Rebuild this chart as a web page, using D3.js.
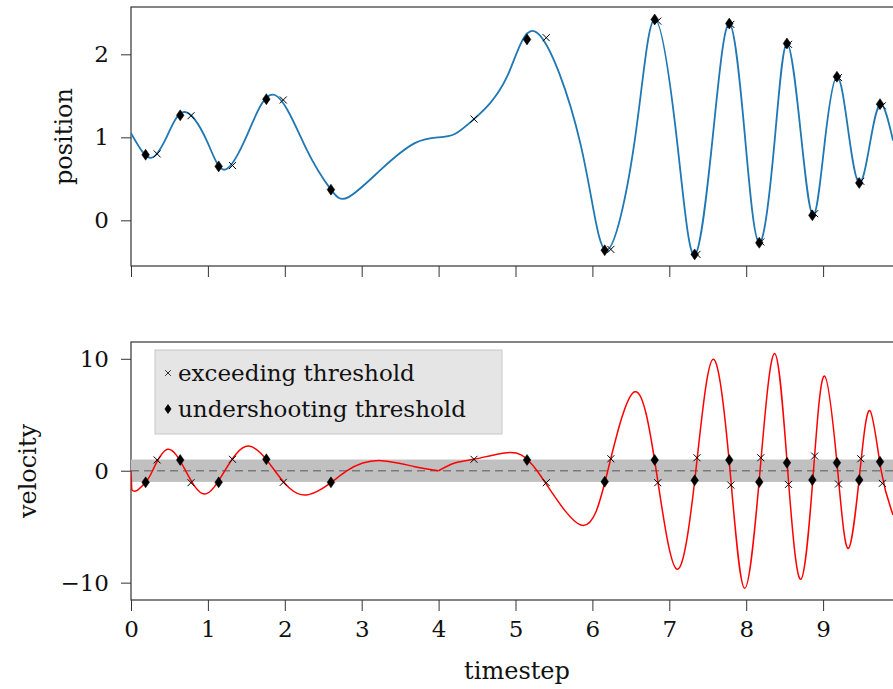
<!DOCTYPE html>
<html>
<head>
<meta charset="utf-8">
<script src="https://cdn.jsdelivr.net/npm/d3@7"></script>
<style>
  body { margin: 0; background: #fff; }
  text { font-family: "DejaVu Serif", serif; fill: #111; }
</style>
</head>
<body>
<svg width="893" height="689"></svg>
<script>
// key points (timestep, value)
const posT = [0.00, 0.095, 0.27, 0.477, 0.70, 0.985, 1.22, 1.525, 1.87, 2.28, 2.60, 2.83, 3.26, 3.69, 4.00, 4.21, 4.46, 4.89, 5.28, 5.85, 6.18, 6.55, 6.81, 7.10, 7.33, 7.57, 7.78, 7.98, 8.17, 8.37, 8.53, 8.71, 8.87, 9.02, 9.18, 9.33, 9.47, 9.61, 9.75, 9.91]
const posV = [1.05, 0.90, 0.755, 1.03, 1.305, 0.96, 0.61, 1.06, 1.51, 0.86, 0.37, 0.28, 0.62, 0.93, 1.00, 1.04, 1.22, 1.73, 2.26, 0.90, -0.36, 0.96, 2.42, 0.96, -0.42, 1.05, 2.37, 1.05, -0.27, 0.96, 2.13, 1.05, 0.06, 0.93, 1.73, 1.06, 0.45, 0.93, 1.40, 0.96]

const velT = [0.00, 0.01, 0.075, 0.19, 0.28, 0.477, 0.71, 0.955, 1.22, 1.525, 1.87, 2.28, 2.81, 3.26, 3.69, 4.00, 4.21, 4.46, 4.89, 5.28, 5.85, 6.20, 6.55, 6.83, 7.10, 7.345, 7.57, 7.79, 7.98, 8.18, 8.37, 8.54, 8.71, 8.875, 9.02, 9.19, 9.33, 9.48, 9.61, 9.755, 9.91]
const velV = [0.00, -1.72, -1.78, -1.04, 0.00, 1.91, 0.00, -2.08, 0.00, 2.20, 0.00, -2.17, 0.00, 0.90, 0.36, 0.00, 0.69, 1.02, 1.61, 0.00, -4.85, 0.00, 7.05, 0.00, -8.8, 0.00, 9.95, 0.00, -10.5, 0.00, 10.48, 0.00, -9.7, 0.00, 8.45, 0.00, -6.93, 0.00, 5.36, 0.00, -3.95]
// kinks in the velocity curve (indices where the spline restarts)
const velBreaks = [1, 15]

// markers
const exceedT = [0.34, 0.78, 1.32, 1.98, 4.46, 5.40, 6.24, 6.85, 7.36, 7.80, 8.19, 8.55, 8.89, 9.20, 9.49, 9.77]
const exceedPos = [0.80, 1.26, 0.66, 1.45, 1.22, 2.20, -0.35, 2.40, -0.41, 2.36, -0.26, 2.12, 0.08, 1.72, 0.47, 1.38]
const exceedVel = [0.96, -1.07, 1.02, -1.04, 1.02, -1.07, 1.07, -1.07, 1.16, -1.28, 1.16, -1.22, 1.31, -1.19, 1.07, -1.13]

const underT = [0.19, 0.64, 1.14, 1.76, 2.60, 5.15, 6.16, 6.81, 7.33, 7.78, 8.17, 8.53, 8.86, 9.18, 9.47, 9.74]
const underPos = [0.79, 1.265, 0.65, 1.46, 0.37, 2.18, -0.36, 2.42, -0.41, 2.37, -0.27, 2.13, 0.06, 1.73, 0.45, 1.40]
const underVel = [-1.04, 0.96, -1.04, 1.02, -1.04, 0.96, -0.98, 0.96, -0.86, 0.96, -1.01, 0.71, -0.83, 0.71, -0.83, 0.80]

const threshold = 1
const xTicks = [0, 1, 2, 3, 4, 5, 6, 7, 8, 9]
const posTicks = [0, 1, 2]
const velTicks = [-10, 0, 10]
const legendLabels = ['exceeding threshold', 'undershooting threshold']

const svg = d3.select('svg')

const x = d3.scaleLinear().domain([0, 10]).range([131, 900])
const yPos = d3.scaleLinear().domain([-0.55, 2.57]).range([266, 7])
const yVel = d3.scaleLinear().domain([-11.55, 11.5]).range([600, 342])

const diamond = 'M0,-5.5L3.8,0L0,5.5L-3.8,0Z'
const cross = 'M-3.5,-3.5L3.5,3.5M-3.5,3.5L3.5,-3.5'

function panel(y, ticks, label, labelX, showXLabels) {
  const top = y.range()[1], bottom = y.range()[0]
  const g = svg.append('g')

  const clipId = 'clip' + Math.round(top)
  g.append('clipPath').attr('id', clipId)
    .append('rect').attr('x', x(0)).attr('y', top).attr('width', x(10) - x(0)).attr('height', bottom - top)

  g.append('g')
    .attr('transform', `translate(${x(0)},0)`)
    .call(d3.axisLeft(y).tickValues(ticks).tickFormat(d3.format('d')).tickSize(10).tickPadding(12).tickSizeOuter(0))
  const xAxis = g.append('g')
    .attr('transform', `translate(0,${bottom})`)
    .call(d3.axisBottom(x).tickValues(xTicks).tickFormat(d3.format('d')).tickSize(11).tickPadding(10).tickSizeOuter(0))
  if (!showXLabels) xAxis.selectAll('text').remove()
  g.selectAll('.domain').remove()
  g.selectAll('.tick line').attr('stroke', '#333').attr('stroke-width', 1)
  g.selectAll('.tick text').style('font-family', '"DejaVu Serif", serif').style('font-size', '23px').attr('fill', '#111')

  // frame
  g.append('rect')
    .attr('x', x(0)).attr('y', top).attr('width', x(10) - x(0)).attr('height', bottom - top)
    .attr('fill', 'none').attr('stroke', '#333').attr('stroke-width', 1.2)

  g.append('text')
    .attr('transform', `translate(${labelX},${(top + bottom) / 2}) rotate(-90)`)
    .attr('text-anchor', 'middle').attr('dy', '0.35em')
    .style('font-size', '24px')
    .text(label)

  return g.append('g').attr('clip-path', `url(#${clipId})`)
}

// ---- position panel
const gTop = panel(yPos, posTicks, 'position', 64, false)

const posLine = d3.line().x((d) => x(d[0])).y((d) => yPos(d[1])).curve(d3.curveNatural)
gTop.append('path')
  .datum(d3.zip(posT, posV))
  .attr('d', posLine)
  .attr('fill', 'none').attr('stroke', '#1f77b4').attr('stroke-width', 1.8)

function drawMarkers(g, y, tArr, vArr, shape) {
  g.selectAll(null)
    .data(d3.zip(tArr, vArr))
    .enter()
    .append('path')
    .attr('transform', (d) => `translate(${x(d[0])},${y(d[1])})`)
    .attr('d', shape)
    .attr('fill', shape === diamond ? '#000' : 'none')
    .attr('stroke', '#000')
    .attr('stroke-width', shape === diamond ? 0.5 : 1)
}
drawMarkers(gTop, yPos, exceedT, exceedPos, cross)
drawMarkers(gTop, yPos, underT, underPos, diamond)

// ---- velocity panel
const gBot = panel(yVel, velTicks, 'velocity', 28, true)

gBot.append('rect')
  .attr('x', x(0)).attr('width', x(10) - x(0))
  .attr('y', yVel(threshold)).attr('height', yVel(-threshold) - yVel(threshold))
  .attr('fill', '#c0c0c0')
gBot.append('line')
  .attr('x1', x(0)).attr('x2', x(10)).attr('y1', yVel(0)).attr('y2', yVel(0))
  .attr('stroke', '#7a7a7a').attr('stroke-width', 1.4).attr('stroke-dasharray', '8,5')

const velPts = d3.zip(velT, velV)
const cuts = [0, ...velBreaks, velPts.length - 1]
const velLine = d3.line().x((d) => x(d[0])).y((d) => yVel(d[1])).curve(d3.curveNatural)
for (let i = 0; i < cuts.length - 1; i++) {
  gBot.append('path')
    .datum(velPts.slice(cuts[i], cuts[i + 1] + 1))
    .attr('d', velLine)
    .attr('fill', 'none').attr('stroke', '#ff0000').attr('stroke-width', 1.5)
}
drawMarkers(gBot, yVel, exceedT, exceedVel, cross)
drawMarkers(gBot, yVel, underT, underVel, diamond)

// x label
svg.append('text')
  .attr('x', 517).attr('y', 679)
  .attr('text-anchor', 'middle')
  .style('font-size', '24px')
  .text('timestep')

// legend
const legend = svg.append('g').attr('transform', 'translate(155,350)')
legend.append('rect')
  .attr('width', 347).attr('height', 84)
  .attr('fill', '#e5e5e5').attr('stroke', '#c8c8c8').attr('stroke-width', 1)
const rows = legend.selectAll('.row')
  .data(legendLabels)
  .enter()
  .append('g')
  .attr('transform', (d, i) => `translate(0,${23 + i * 36})`)
rows.append('path')
  .attr('transform', 'translate(13,0) scale(0.8)')
  .attr('d', (d, i) => (i === 0 ? cross : diamond))
  .attr('fill', (d, i) => (i === 0 ? 'none' : '#000'))
  .attr('stroke', '#000')
  .attr('stroke-width', 1)
rows.append('text')
  .attr('x', 23).attr('dy', '0.35em')
  .style('font-size', '23px')
  .text((d) => d)
</script>
</body>
</html>
